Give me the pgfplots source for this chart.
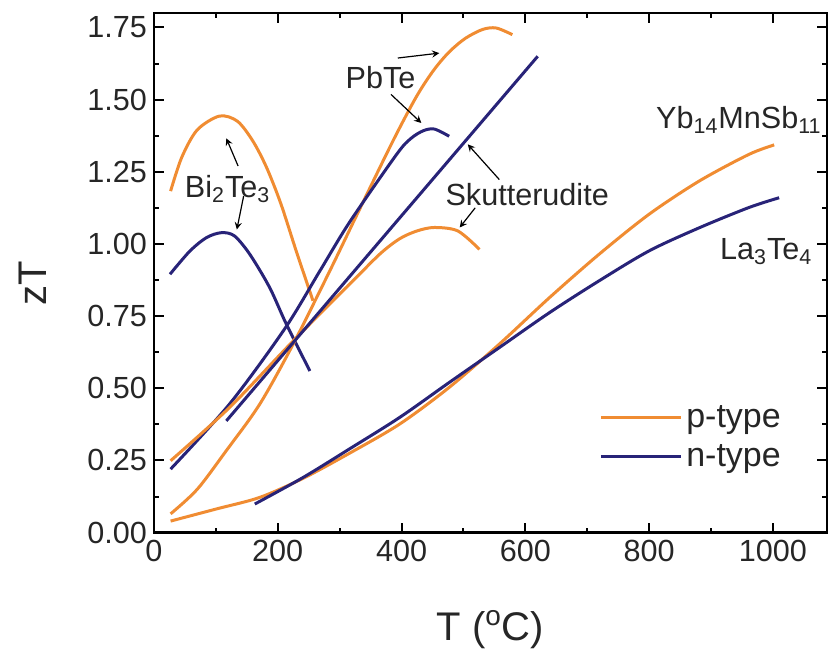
\documentclass[border=0pt]{standalone}
\usepackage{fontspec}
\setmainfont{Liberation Sans}
\usepackage{pgfplots}
\pgfplotsset{compat=1.18}
\definecolor{ptype}{RGB}{240,140,50}
\definecolor{ntype}{RGB}{40,35,120}

\begin{document}
\begin{tikzpicture}
\begin{axis}[
    scale only axis,
    width=336.7pt, height=260pt,
    xmin=0, xmax=1087, ymin=0, ymax=1.8,
    xtick={0,200,400,600,800,1000}, minor x tick num=1,
    ytick={0,0.25,0.5,0.75,1,1.25,1.5,1.75}, minor y tick num=1,
    tick align=inside,
    major tick length=5pt, minor tick length=2.5pt,
    axis line style={line width=1.2pt},
    every tick/.style={line width=1pt, black},
    /pgf/number format/assume math mode=true,
    /pgf/number format/1000 sep={},
    yticklabel style={/pgf/number format/.cd, fixed, fixed zerofill, precision=2},
    tick label style={font=\fontsize{15.3}{18}\selectfont, text=black!85},
    xlabel={T (\textsuperscript{o}C)},
    ylabel={zT},
    label style={font=\fontsize{20}{24}\selectfont, text=black!85},
    xlabel style={at={(axis description cs:0.5,-0.208)}, anchor=base},
    ylabel style={at={(axis description cs:-0.159,0.48)}, anchor=base},
    legend style={at={(axis cs:719,0.33)}, anchor=west, draw=none, fill=none,
        inner sep=0pt, row sep=3pt, font=\fontsize{17}{20}\selectfont, text=black!85},
    legend image code/.code={\draw[#1] (0pt,0pt) -- (40pt,0pt);},
    every axis plot/.append style={line width=1.5pt},
    clip=false,
]
% Bi2Te3
\addplot[ptype, smooth, forget plot] coordinates {
  (27,1.183) (45,1.30) (70,1.395) (106,1.443) (135,1.425) (160,1.356) (182,1.265) (205,1.14) (230,0.975) (257,0.803)};
\addplot[ntype, smooth, forget plot] coordinates {
  (26,0.895) (58,0.975) (85,1.022) (109,1.039) (130,1.028) (155,0.964) (187,0.849) (214,0.722) (252,0.56)};
% PbTe
\addplot[ptype, smooth, forget plot] coordinates {
  (27,0.065) (70,0.15) (117,0.284) (171,0.445) (225,0.653) (284,0.906) (330,1.11) (386,1.356) (424,1.51) (452,1.602) (477,1.665) (503,1.712) (531,1.743) (553,1.748) (579,1.725)};
\addplot[ntype, smooth, forget plot] coordinates {
  (27,0.22) (122,0.445) (211,0.705) (268,0.906) (316,1.075) (392,1.31) (415,1.365) (435,1.392) (453,1.398) (477,1.373)};
% Skutterudite
\addplot[ptype, smooth, forget plot] coordinates {
  (27,0.249) (122,0.433) (225,0.664) (316,0.86) (365,0.965) (397,1.018) (425,1.045) (453,1.057) (491,1.045) (526,0.981)};
\addplot[ntype, forget plot] coordinates {(117,0.387) (620,1.65)};
% Yb14MnSb11 and La3Te4
\addplot[ptype, smooth, forget plot] coordinates {
  (27,0.04) (101,0.082) (171,0.122) (241,0.188) (316,0.275) (397,0.376) (477,0.503) (558,0.653) (639,0.814) (719,0.964) (800,1.103) (881,1.218) (961,1.31) (1002,1.343)};
\addplot[ntype, smooth, forget plot] coordinates {
  (163,0.099) (241,0.191) (316,0.29) (397,0.399) (477,0.52) (558,0.641) (639,0.762) (719,0.872) (800,0.976) (881,1.056) (961,1.126) (1010,1.16)};

\addlegendimage{ptype, line width=1.5pt}
\addlegendentry{p-type}
\addlegendimage{ntype, line width=1.5pt}
\addlegendentry{n-type}

% annotations
\begin{scope}[every node/.style={font=\fontsize{15.3}{18}\selectfont, text=black!85, inner sep=0pt},
              arr/.style={-stealth, line width=0.6pt, black}]
\node at (axis cs:119,1.19) {Bi\textsubscript{2}Te\textsubscript{3}};
\draw[arr] (axis cs:136,1.27) -- (axis cs:117,1.366);
\draw[arr] (axis cs:145,1.166) -- (axis cs:134,1.05);
\node at (axis cs:366,1.578) {PbTe};
\draw[arr] (axis cs:383,1.518) -- (axis cs:432,1.419);
\draw[arr] (axis cs:394,1.644) -- (axis cs:461,1.661);
\node at (axis cs:603,1.17) {Skutterudite};
\draw[arr] (axis cs:558,1.223) -- (axis cs:507,1.345);
\draw[arr] (axis cs:519,1.125) -- (axis cs:494,1.057);
\node at (axis cs:945,1.43) {Yb\textsubscript{14}MnSb\textsubscript{11}};
\node at (axis cs:989,0.972) {La\textsubscript{3}Te\textsubscript{4}};
\end{scope}
\end{axis}
\path ([shift={(-77pt,-59pt)}]current axis.south west) rectangle ([shift={(0pt,6.5pt)}]current axis.north east);
\end{tikzpicture}
\end{document}
